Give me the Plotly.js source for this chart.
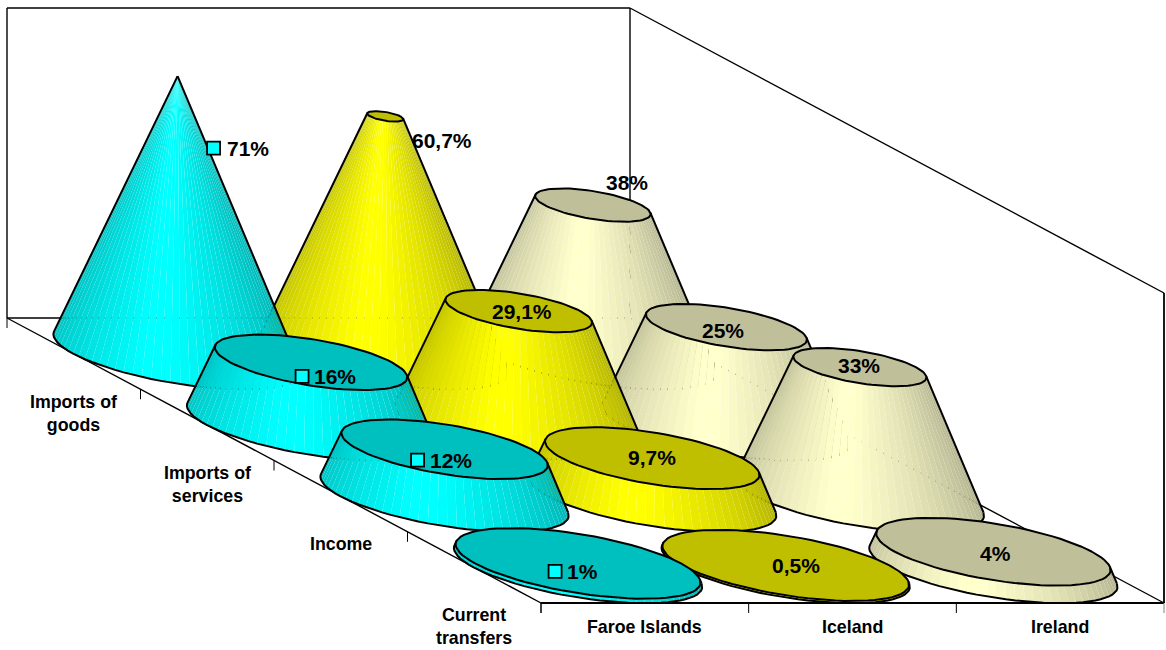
<!DOCTYPE html>
<html>
<head>
<meta charset="utf-8">
<script src="https://cdn.plot.ly/plotly-3.0.1.min.js"></script>
<style>html,body{margin:0;padding:0;background:#fff}#chart{width:1166px;height:650px}</style>
</head>
<body>
<div id="chart"></div>
<script>
// Balance-of-payments debit shares by partner country
const categories = ['Imports of<br>goods', 'Imports of<br>services', 'Income', 'Current<br>transfers'];
const countries = ['Faroe Islands', 'Iceland', 'Ireland'];
const faroeValues = [71, 16, 12, 1];
const icelandValues = [60.7, 29.1, 9.7, 0.5];
const irelandValues = [38, 25, 33, 4];
const seriesValues = [faroeValues, icelandValues, irelandValues];

// Oblique box the cones stand in, in plot units
const boxOrigin = {x: 7, y: 318};
const widthAxis = 623;
const depthAxis = {x: 534, y: 285};
const wallHeight = 310;
const valueAxisMax = 79.3;
const coneMax = Math.max(...seriesValues.flat());
const baseRadius = 0.503;

const bodyColours = [[0, 255, 255], [255, 255, 0], [255, 255, 204]];
const capShade = 0.75;
const FACETS = 80;
const BLACK = '#000000';
const FONT = 'Liberation Sans, Arial, sans-serif';

// Label nudges from the top centre of each cone (pixels, y down)
const labelNudgeX = [[70, 24, 6, 4], [57, 3, 0, 10], [34, -3, -1, 2]];
const labelNudgeY = [[72, 14, 11, 8], [24, 0, -1, 0], [-23, 3, -2, 2]];
const keyGap = [34, 33, 33, 27];

const nCat = categories.length, nSer = countries.length;

function project(u, v, value) {
  return [
    boxOrigin.x + widthAxis * u + depthAxis.x * v,
    boxOrigin.y + depthAxis.y * v - wallHeight * value / valueAxisMax
  ];
}

function rgb(c, k) {
  return 'rgb(' + c.map(q => Math.round(q * k)).join(',') + ')';
}

function ring(s, c, value, radius) {
  // Circle on a horizontal plane through the cell centre, one point per facet edge
  const pts = [];
  for (let i = 0; i <= FACETS; i++) {
    const t = 2 * Math.PI * i / FACETS;
    pts.push(project((s + 0.5 + radius * Math.cos(t)) / nSer,
                     (c + 0.5 + radius * Math.sin(t)) / nCat, value));
  }
  return pts;
}

function polyTrace(pts, fill, lineColour, lineWidth) {
  return {
    type: 'scatter', mode: 'lines', hoverinfo: 'skip', showlegend: false,
    x: pts.map(p => p ? p[0] : null), y: pts.map(p => p ? p[1] : null),
    fill: fill ? 'toself' : 'none', fillcolor: fill || undefined,
    line: {color: lineColour || 'rgba(0,0,0,0)', width: lineWidth || 0},
    connectgaps: false
  };
}

function signedArea(a, b, c, d) {
  const q = [a, b, c, d];
  let sum = 0;
  for (let i = 0; i < 4; i++) {
    const p = q[i], n = q[(i + 1) % 4];
    sum += p[0] * n[1] - n[0] * p[1];
  }
  return sum;
}

function coneTraces(s, c) {
  const value = seriesValues[s][c];
  const colour = bodyColours[s];
  const topRadius = baseRadius * (1 - value / coneMax);
  const base = ring(s, c, 0, baseRadius);
  const top = ring(s, c, value, topRadius);
  const traces = [];

  // Facets turned towards the viewer, shaded by their bearing
  const front = FACETS / 4;
  const refSign = Math.sign(signedArea(base[front], base[front + 1], top[front + 1], top[front]));
  const visible = [];
  for (let i = 0; i < FACETS; i++) {
    visible.push(signedArea(base[i], base[i + 1], top[i + 1], top[i]) * refSign > 0);
  }
  const brightestDeg = 132;
  for (let i = 0; i < FACETS; i++) {
    if (!visible[i]) continue;
    const deg = 360 * (i + 0.5) / FACETS;
    const k = Math.min(1, 1.02 - 0.0034 * Math.abs(deg - brightestDeg));
    const shade = rgb(colour, k);
    traces.push(polyTrace([base[i], base[i + 1], top[i + 1], top[i], base[i]], shade));
  }

  // Outline: front arc of the base plus the two silhouette edges
  let start = 0;
  while (!(visible[start] && !visible[(start + FACETS - 1) % FACETS])) start++;
  let end = start;
  const arc = [];
  while (visible[end % FACETS]) {
    arc.push(base[end % FACETS]);
    end++;
  }
  arc.push(base[end % FACETS]);
  traces.push(polyTrace(arc.concat([top[end % FACETS], null, top[start], base[start]]),
                        null, BLACK, 2));

  // Cut face of the cone
  if (topRadius > 0) traces.push(polyTrace(top, rgb(colour, capShade), BLACK, 2));
  return traces;
}

// Box frame
const frameLines = [];
function frame(a, b, width) {
  const pa = project(a[0], a[1], a[2] * valueAxisMax), pb = project(b[0], b[1], b[2] * valueAxisMax);
  frameLines.push(polyTrace([pa, pb], null, BLACK, width || 1.4));
}
frame([0, 0, 0], [0, 0, 1]);
frame([0, 0, 1], [1, 0, 1]);
frame([1, 0, 0], [1, 0, 1]);
frame([1, 0, 1], [1, 1, 1]);
frame([1, 1, 1], [1, 1, 0], 1.8);
frame([0, 0, 0], [1, 0, 0]);
frame([1, 0, 0], [1, 1, 0]);
frame([0, 0, 0], [0, 1, 0]);
frame([0, 1, 0], [1, 1, 0], 2);

// Tick marks hang straight down from the two front floor edges
const tickDrop = 10;
for (let c = 0; c <= nCat; c++) {
  const p = project(0, c / nCat, 0);
  frameLines.push(polyTrace([p, [p[0], p[1] + tickDrop]], null, BLACK, 1));
}
for (let s = 0; s <= nSer; s++) {
  const p = project(s / nSer, 1, 0);
  frameLines.push(polyTrace([p, [p[0], p[1] + tickDrop]], null, s === nSer ? '#808080' : BLACK, 1));
}

// Painter's order: back rows first, right-hand series first within a row
const data = frameLines.slice();
for (let c = 0; c < nCat; c++) {
  for (let s = nSer - 1; s >= 0; s--) data.push(...coneTraces(s, c));
}

const annotations = [];
const labelFont = {family: FONT, size: 21, color: BLACK, weight: 700};
const axisFont = {family: FONT, size: 17.8, color: BLACK, weight: 700};

seriesValues.forEach((vals, s) => vals.forEach((value, c) => {
  const p = project((s + 0.5) / nSer, (c + 0.5) / nCat, value);
  annotations.push({
    x: p[0], y: p[1], xref: 'x', yref: 'y', showarrow: false,
    xshift: labelNudgeX[s][c], yshift: -labelNudgeY[s][c],
    text: '<b>' + String(value).replace('.', ',') + '%</b>',
    font: labelFont
  });
}));

// Square keys beside the first series' labels
data.push({
  type: 'scatter', mode: 'markers', hoverinfo: 'skip', showlegend: false,
  x: faroeValues.map((v, c) => project(0.5 / nSer, (c + 0.5) / nCat, v)[0] + labelNudgeX[0][c] - keyGap[c]),
  y: faroeValues.map((v, c) => project(0.5 / nSer, (c + 0.5) / nCat, v)[1] + labelNudgeY[0][c]),
  marker: {symbol: 'square', size: 13, color: 'rgb(0,255,255)', line: {color: BLACK, width: 1.8}}
});

categories.forEach((name, c) => {
  const p = project(0, (c + 0.5) / nCat, 0);
  annotations.push({
    x: p[0], y: p[1] + 36, xref: 'x', yref: 'y', yanchor: 'top', showarrow: false,
    text: '<b>' + name + '</b>', font: axisFont, align: 'center'
  });
});
countries.forEach((name, s) => {
  const p = project((s + 0.5) / nSer, 1, 0);
  annotations.push({
    x: p[0], y: p[1] + 24, xref: 'x', yref: 'y', showarrow: false,
    text: '<b>' + name + '</b>', font: axisFont
  });
});

const hiddenAxis = {visible: false, fixedrange: true, showgrid: false, zeroline: false};
Plotly.newPlot('chart', data, {
  width: 1166, height: 650,
  margin: {l: 0, r: 0, t: 0, b: 0},
  paper_bgcolor: '#ffffff', plot_bgcolor: '#ffffff',
  showlegend: false, hovermode: false,
  xaxis: Object.assign({range: [0, 1166]}, hiddenAxis),
  yaxis: Object.assign({range: [650, 0]}, hiddenAxis),
  annotations: annotations
}, {displayModeBar: false, staticPlot: true});
</script>
</body>
</html>
